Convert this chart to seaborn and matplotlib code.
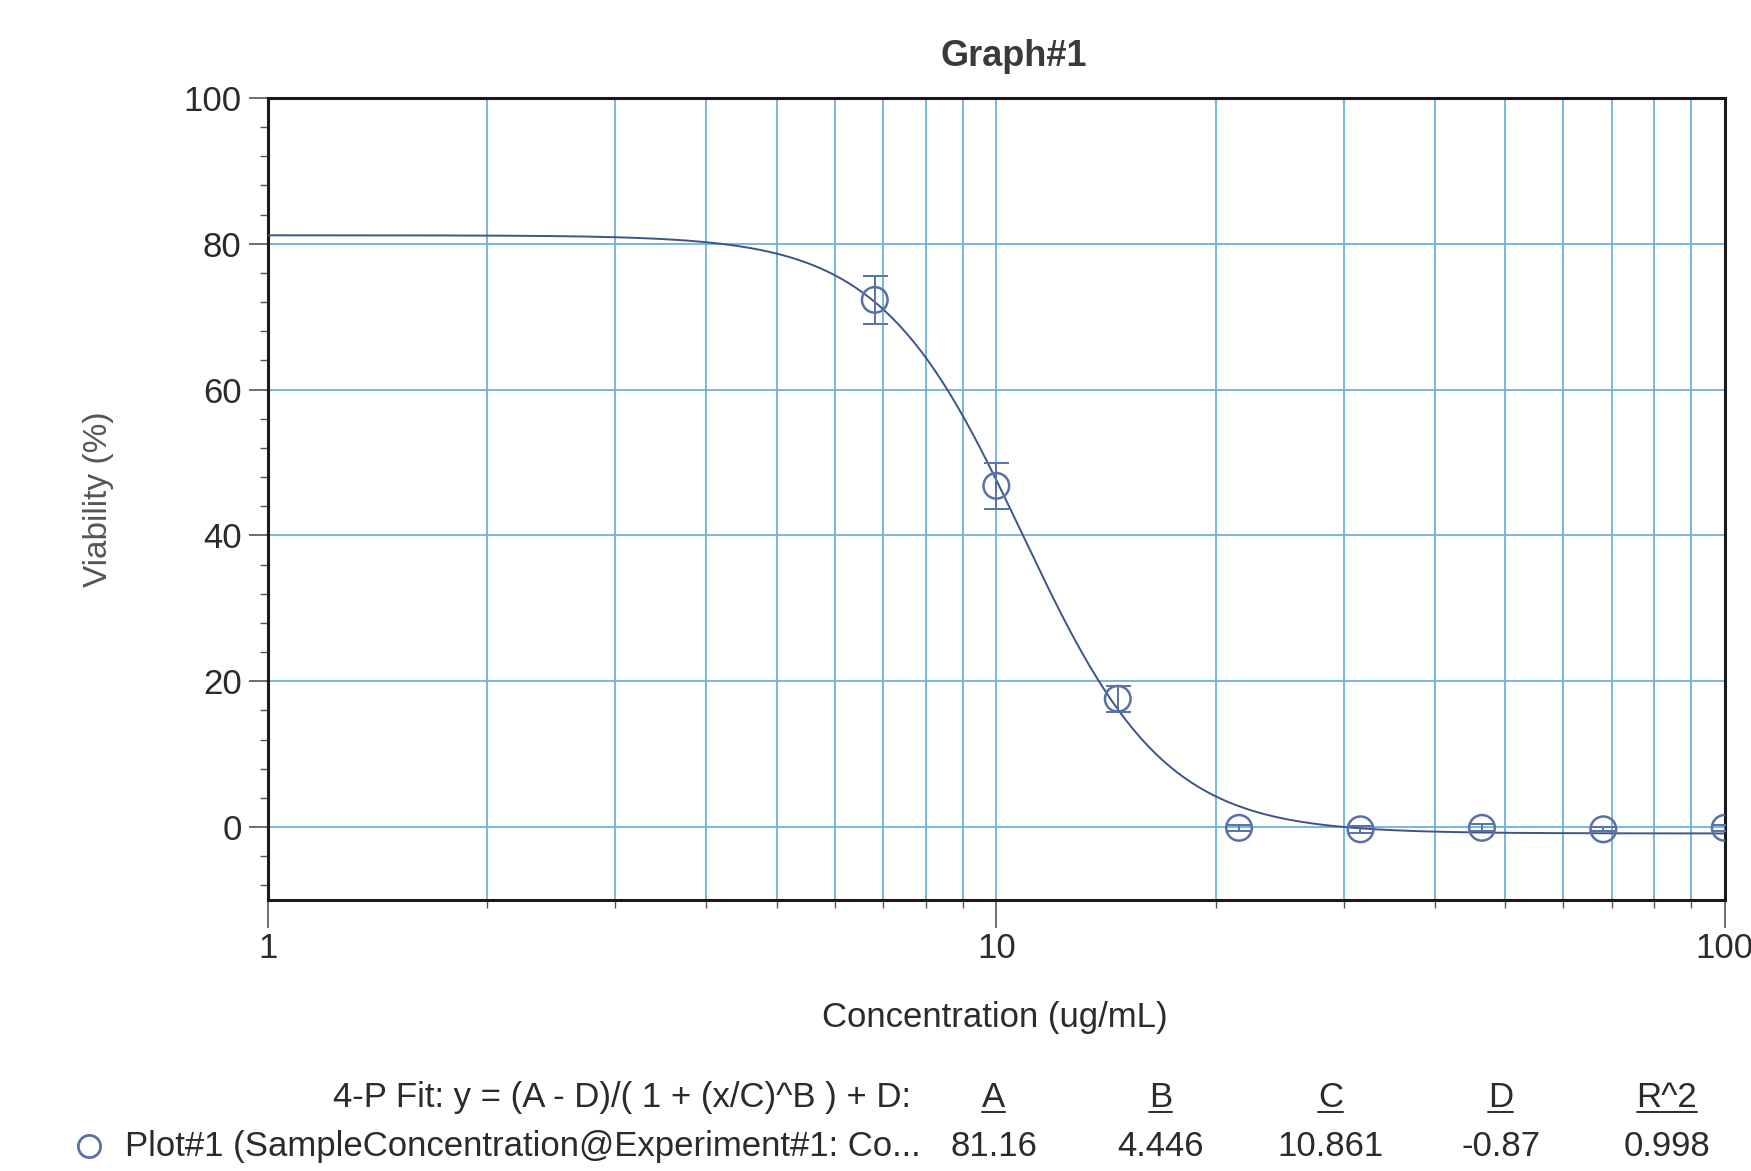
import numpy as np
import pandas as pd
import matplotlib.pyplot as plt
import seaborn as sns
from matplotlib.lines import Line2D
from matplotlib.ticker import LogLocator, MultipleLocator, FixedLocator

# measured points
conc = [6.81, 10.0, 14.68, 21.54, 31.62, 46.42, 68.13, 100.0]
viability = [72.3, 46.8, 17.6, -0.1, -0.3, -0.1, -0.3, -0.1]
err = [3.3, 3.2, 1.8, 0.4, 0.5, 0.5, 0.3, 0.4]

# 4-P fit parameters shown under the chart
fit_names = ['A', 'B', 'C', 'D', 'R^2']
fit_values = ['81.16', '4.446', '10.861', '-0.87', '0.998']
A, B, C, D = 81.16, 4.446, 10.861, -0.87

sns.set_style('white')
plt.rcParams['font.family'] = ['Liberation Sans', 'DejaVu Sans']

text_col = '#2b2b2b'
grid_col = '#6cb2d8'
line_col = '#3b5686'
mark_col = '#5870aa'
fs = 25

fig = plt.figure(figsize=(17.51, 11.71), dpi=100)
ax = fig.add_axes([0.153, 0.2314, 0.832, 0.685])

# fitted curve from the displayed parameters
xs = np.logspace(0, 2, 400)
curve = pd.DataFrame({'x': xs, 'y': (A - D) / (1 + (xs / C) ** B) + D})
sns.lineplot(data=curve, x='x', y='y', ax=ax, color=line_col, lw=1.4, zorder=3)

ax.errorbar(conc, viability, yerr=err, fmt='none', ecolor=mark_col,
            elinewidth=1.4, capsize=9, capthick=1.4, zorder=4)
sns.scatterplot(x=conc, y=viability, ax=ax, marker='o', s=340,
                facecolor='none', edgecolor=mark_col, linewidth=1.8, zorder=5)

ax.set_xscale('log')
ax.set_xlim(1, 100)
ax.set_ylim(-10, 100)

ax.xaxis.set_major_locator(FixedLocator([1, 10, 100]))
ax.xaxis.set_major_formatter(plt.FuncFormatter(lambda v, p: f'{v:g}'))
ax.xaxis.set_minor_locator(LogLocator(base=10, subs=np.arange(2, 10)))
ax.xaxis.set_minor_formatter(plt.NullFormatter())
ax.yaxis.set_major_locator(MultipleLocator(20))
ax.yaxis.set_minor_locator(MultipleLocator(4))

ax.grid(which='both', axis='x', color=grid_col, lw=1.3)
ax.grid(which='major', axis='y', color=grid_col, lw=1.3)
ax.set_axisbelow(True)

ax.tick_params(axis='both', which='major', direction='out', length=14, width=1.2,
               color='#555555', labelsize=fs, labelcolor=text_col, pad=5)
ax.tick_params(axis='both', which='minor', direction='out', length=6, width=1,
               color='#555555')
ax.tick_params(axis='x', which='major', length=20, pad=3)
ax.tick_params(left=True, bottom=True, which='both')
for s in ax.spines.values():
    s.set_color('#1a1a1a')
    s.set_linewidth(2.2)

ax.set_xlabel('')
ax.set_ylabel('')

fig.text(0.579, 0.952, 'Graph#1', ha='center', va='center', fontsize=26,
         fontweight='bold', color='#3a3a3a')
fig.text(0.568, 0.131, 'Concentration (ug/mL)', ha='center', va='center',
         fontsize=fs, color=text_col)
fig.text(0.056, 0.574, 'Viability (%)', ha='center', va='center', rotation=90,
         fontsize=24, color='#555555')

# fit summary below the plot
fig.text(0.520, 0.0627, '4-P Fit: y = (A - D)/( 1 + (x/C)^B ) + D:', ha='right',
         va='center', fontsize=fs, color=text_col)
fig.text(0.0714, 0.0207, 'Plot#1 (SampleConcentration@Experiment#1: Co...',
         ha='left', va='center', fontsize=fs, color=text_col)
fig.add_artist(Line2D([0.051], [0.0215], marker='o', markersize=16, mfc='none',
                      mec=mark_col, mew=2, transform=fig.transFigure))

col_x = [0.5675, 0.663, 0.760, 0.857, 0.952]
fig.canvas.draw()
renderer = fig.canvas.get_renderer()
for cx, name, val in zip(col_x, fit_names, fit_values):
    t = fig.text(cx, 0.0627, name, ha='center', va='center', fontsize=fs, color=text_col)
    fig.text(cx, 0.0207, val, ha='center', va='center', fontsize=fs, color=text_col)
    bb = t.get_window_extent(renderer).transformed(fig.transFigure.inverted())
    fig.add_artist(Line2D([bb.x0, bb.x1], [bb.y0 + 0.002] * 2, color=text_col,
                          lw=1.4, transform=fig.transFigure))

fig.savefig('out.png', dpi=100, facecolor='white')
